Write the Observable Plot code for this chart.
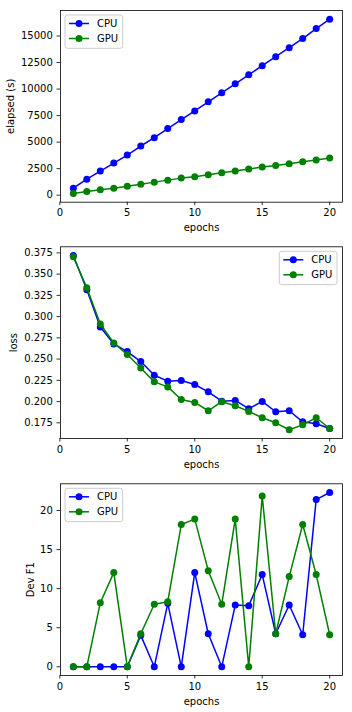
<!DOCTYPE html>
<html><head><meta charset="utf-8">
<script src="https://cdn.jsdelivr.net/npm/d3@7"></script>
<script src="https://cdn.jsdelivr.net/npm/@observablehq/plot@0.6"></script>
<style>
html,body{margin:0;padding:0;background:#fff;}
#root{width:352px;}
#root svg{display:block;}
</style></head><body><div id="root"></div>
<script>
const epochs = [1,2,3,4,5,6,7,8,9,10,11,12,13,14,15,16,17,18,19,20];
const devices = ["CPU","GPU"];
const deviceColors = ["blue","green"];
const xTicks = [0,5,10,15,20];

const cpuElapsed = [662,1513,2270,3026,3783,4634,5422,6274,7125,7944,8796,9647,10498,11349,12200,13052,13903,14754,15700,16583];
const gpuElapsed = [160,347,504,662,851,1040,1230,1419,1608,1734,1923,2112,2270,2459,2648,2806,2963,3153,3310,3499];
const elapsedTicks = [0,2500,5000,7500,10000,12500,15000];

const cpuLoss = [0.3719,0.3316,0.2878,0.2678,0.2588,0.2471,0.2310,0.2240,0.2248,0.2201,0.2115,0.2005,0.2013,0.1916,0.2002,0.1880,0.1892,0.1762,0.1739,0.1683];
const gpuLoss = [0.3703,0.3339,0.2913,0.2690,0.2553,0.2396,0.2232,0.2173,0.2025,0.1990,0.1892,0.1998,0.1951,0.1884,0.1810,0.1750,0.1668,0.1726,0.1810,0.1683];
const lossTicks = [0.175,0.2,0.225,0.25,0.275,0.3,0.325,0.35,0.375];

const cpuF1 = [0,0,0,0,0,4.02,0,8.12,0,12.05,4.23,0,7.9,7.82,11.8,4.23,7.9,4.1,21.4,22.3];
const gpuF1 = [0,0,8.2,12.05,0,4.23,8.0,8.33,18.2,18.9,12.3,8.0,18.9,0,21.84,4.23,11.54,18.2,11.8,4.1];
const f1Ticks = [0,5,10,15,20];

function pad(vals){
  const lo = d3.min(vals), hi = d3.max(vals), m = (hi-lo)*0.05;
  return [lo-m, hi+m];
}

function panel(opts){
  const {height, mt, mb, ml=60, mr=10, cpu, gpu, yticks, yfmt, ylabel, ylabelDx, legend} = opts;
  const data = [
    ...epochs.map((e,i)=>({epoch:e, value:cpu[i], device:"CPU"})),
    ...epochs.map((e,i)=>({epoch:e, value:gpu[i], device:"GPU"}))
  ];
  const marks = [
    Plot.axisX({ticks:xTicks, tickSize:3.5, tickPadding:3.5, label:null, strokeWidth:0.8, fill:"#000"}),
    Plot.axisY({ticks:yticks, tickSize:3.5, tickPadding:4.2, tickFormat:yfmt, label:null, strokeWidth:0.8, fill:"#000"})
  ];
  for (const dev of devices){
    const sub = data.filter(d=>d.device===dev);
    marks.push(Plot.line(sub, {x:"epoch", y:"value", stroke:"device", strokeWidth:1.5}));
    marks.push(Plot.dot(sub, {x:"epoch", y:"value", fill:"device", r:3.5, stroke:null}));
  }
  marks.push(Plot.frame({stroke:"#000", strokeWidth:0.8}));
  marks.push(Plot.text(["epochs"], {frameAnchor:"bottom", dy:25.8, lineAnchor:"middle", textAnchor:"middle", fill:"#000", fontSize:10}));
  marks.push(Plot.text([ylabel], {frameAnchor:"left", dx:ylabelDx, rotate:-90, lineAnchor:"middle", textAnchor:"middle", fill:"#000", fontSize:10}));
  const svg = Plot.plot({
    width:352, height, marginTop:mt, marginBottom:mb, marginLeft:ml, marginRight:mr,
    style:{fontFamily:"'DejaVu Sans', sans-serif", fontSize:"10px", color:"#000", background:"#fff"},
    x:{domain:pad(epochs)},
    y:{domain:pad([...cpu,...gpu])},
    color:{domain:devices, range:deviceColors},
    marks
  });
  // legend
  const lw = 57.7, lh = 33.3;
  const bx = legend === "left" ? ml + 5 : 352 - mr - 5 - lw;
  const by = mt + 5;
  const g = d3.select(svg).append("g").attr("font-family","'DejaVu Sans', sans-serif").attr("font-size","10px").attr("text-anchor","start");
  g.append("rect").attr("x",bx).attr("y",by).attr("width",lw).attr("height",lh)
    .attr("rx",2.5).attr("fill","#fff").attr("fill-opacity",0.8).attr("stroke","#cccccc").attr("stroke-width",1);
  devices.forEach((dev,i)=>{
    const cy = by + 8.5 + i*15;
    const c = deviceColors[i];
    g.append("line").attr("x1",bx+4).attr("x2",bx+24).attr("y1",cy).attr("y2",cy).attr("stroke",c).attr("stroke-width",1.5);
    g.append("circle").attr("cx",bx+14).attr("cy",cy).attr("r",3.5).attr("fill",c);
    g.append("text").attr("x",bx+32).attr("y",cy).attr("dy","0.35em").attr("fill","#000").attr("text-anchor","start").text(dev);
  });
  return svg;
}

const root = document.getElementById("root");
root.appendChild(panel({height:237, mt:10, mb:35.3, cpu:cpuElapsed, gpu:gpuElapsed, yticks:elapsedTicks, yfmt:d3.format("d"), ylabel:"elapsed (s)", ylabelDx:-49.7, legend:"left"}));
root.appendChild(panel({height:237, mt:9.3, mb:36, cpu:cpuLoss, gpu:gpuLoss, yticks:lossTicks, yfmt:d3.format(".3f"), ylabel:"loss", ylabelDx:-46.7, legend:"right"}));
root.appendChild(panel({height:238, mt:9.3, mb:37, cpu:cpuF1, gpu:gpuF1, yticks:f1Ticks, yfmt:d3.format("d"), ylabel:"Dev F1", ylabelDx:-29.9, legend:"left"}));
</script>
</body></html>
